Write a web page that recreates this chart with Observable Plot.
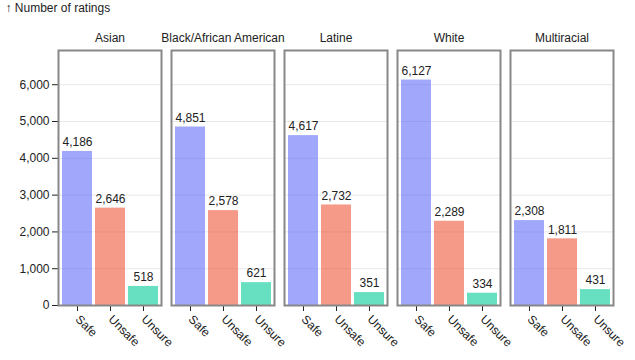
<!DOCTYPE html>
<html>
<head>
<meta charset="utf-8">
<script src="https://cdn.jsdelivr.net/npm/d3@7"></script>
<script src="https://cdn.jsdelivr.net/npm/@observablehq/plot@0.6"></script>
<style>
  html, body { margin: 0; padding: 0; background: #fff; }
</style>
</head>
<body>
<div id="chart"></div>
<script>
const groups = ["Asian", "Black/African American", "Latine", "White", "Multiracial"];
const ratings = ["Safe", "Unsafe", "Unsure"];
const safeCounts = [4186, 4851, 4617, 6127, 2308];
const unsafeCounts = [2646, 2578, 2732, 2289, 1811];
const unsureCounts = [518, 621, 351, 334, 431];
const ratingColors = ["#636efa", "#ef553b", "#00cc96"];

const series = [safeCounts, unsafeCounts, unsureCounts];
const data = [];
groups.forEach((g, gi) => {
  ratings.forEach((r, ri) => {
    data.push({group: g, rating: r, count: series[ri][gi]});
  });
});

const chart = Plot.plot({
  width: 635,
  height: 360,
  marginLeft: 56,
  marginRight: 20,
  marginTop: 50,
  marginBottom: 55,
  style: {fontFamily: "'Liberation Sans', sans-serif", fontSize: "12px", color: "#222"},
  fx: {domain: groups, label: null, paddingInner: 0.09, paddingOuter: 0},
  x: {domain: ratings, label: null, tickRotate: 45},
  y: {domain: [0, 6930], grid: true, label: "↑ Number of ratings", ticks: [0, 1000, 2000, 3000, 4000, 5000, 6000]},
  color: {domain: ratings, range: ratingColors},
  marks: [
    Plot.barY(data, {fx: "group", x: "rating", y: "count", fill: "rating", fillOpacity: 0.6}),
    Plot.text(data, {fx: "group", x: "rating", y: "count", text: d => d.count.toLocaleString("en-US"), dy: -9, fontSize: 12, fill: "#222"}),
    Plot.frame({stroke: "#888", strokeWidth: 2})
  ]
});
document.getElementById("chart").appendChild(chart);
</script>
</body>
</html>
